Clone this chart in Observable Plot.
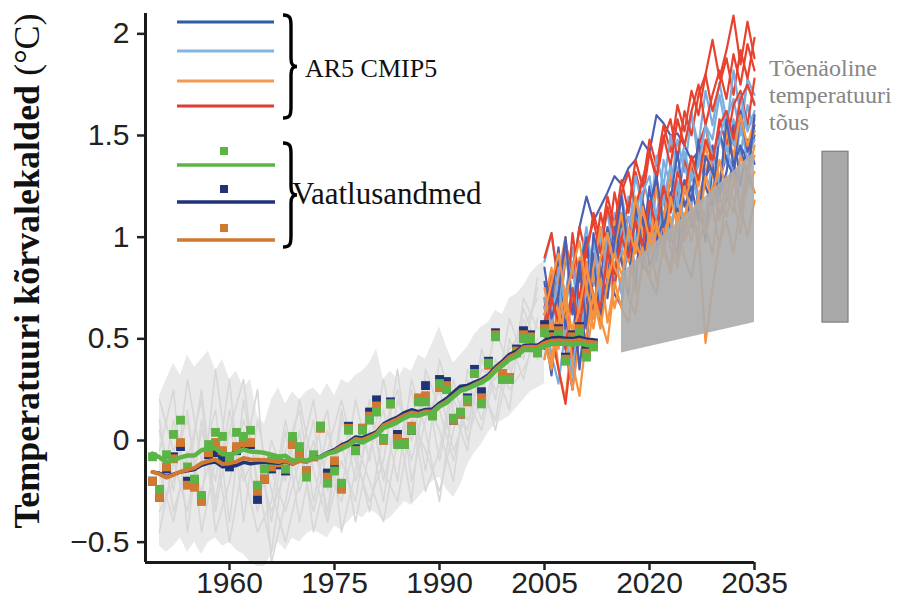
<!DOCTYPE html>
<html>
<head>
<meta charset="utf-8">
<script src="https://cdn.jsdelivr.net/npm/d3@7"></script>
<script src="https://cdn.jsdelivr.net/npm/@observablehq/plot@0.6"></script>
<style>
  html, body { margin: 0; padding: 0; background: #fff; }
  #chart { width: 904px; height: 611px; }
</style>
</head>
<body>
<div id="chart"></div>
<script>
// ---- Axes ----
const xDomain = [1948, 2035];
const yDomain = [-0.6, 2.1];
const xTicks = [1960, 1975, 1990, 2005, 2020, 2035];
const yTicks = [-0.5, 0, 0.5, 1, 1.5, 2];

// ---- Observed annual anomalies (°C), three datasets ----
const obsYears = d3.range(1949, 2013);
const obsGreen = [
  -0.08, -0.24, -0.07, 0.03, 0.10, -0.13, -0.19, -0.27, -0.02, 0.04,
  0.02, -0.08, 0.04, 0.02, 0.05, -0.22, -0.14, -0.10, -0.09, -0.14,
  0.02, -0.03, -0.18, -0.07, 0.07, -0.21, -0.15, -0.21, 0.05, -0.05,
  0.05, 0.10, 0.14, 0.01, 0.18, -0.02, -0.02, 0.05, 0.19, 0.19,
  0.12, 0.28, 0.25, 0.11, 0.14, 0.20, 0.33, 0.18, 0.38, 0.51,
  0.30, 0.30, 0.43, 0.50, 0.50, 0.43, 0.53, 0.49, 0.52, 0.39,
  0.49, 0.53, 0.41, 0.46
];
const obsNavy = [
  -0.20, -0.28, -0.14, -0.08, -0.03, -0.20, -0.20, -0.29, -0.07, -0.06,
  -0.09, -0.13, -0.05, -0.02, -0.02, -0.29, -0.19, -0.14, -0.12, -0.15,
  -0.01, -0.06, -0.15, -0.08, 0.07, -0.16, -0.12, -0.23, 0.07, -0.04,
  0.06, 0.14, 0.20, 0.01, 0.19, 0.03, -0.01, 0.05, 0.20, 0.27,
  0.13, 0.30, 0.29, 0.10, 0.13, 0.21, 0.35, 0.24, 0.39, 0.53,
  0.31, 0.31, 0.45, 0.54, 0.52, 0.45, 0.57, 0.52, 0.55, 0.41,
  0.52, 0.56, 0.45, 0.48
];
const obsBrown = [
  -0.20, -0.28, -0.13, -0.09, -0.01, -0.22, -0.23, -0.30, -0.06, -0.01,
  -0.05, -0.10, -0.03, -0.01, -0.01, -0.25, -0.19, -0.13, -0.11, -0.14,
  -0.02, -0.07, -0.15, -0.08, 0.06, -0.18, -0.10, -0.24, 0.06, -0.05,
  0.06, 0.12, 0.17, 0.00, 0.18, 0.01, -0.01, 0.07, 0.21, 0.22,
  0.13, 0.26, 0.27, 0.10, 0.13, 0.19, 0.33, 0.21, 0.37, 0.52,
  0.33, 0.31, 0.44, 0.52, 0.51, 0.44, 0.55, 0.51, 0.54, 0.40,
  0.51, 0.55, 0.43, 0.47
];

// ---- Historical model ensemble: spread and sample runs ----
const histYears = d3.range(1950, 2006);
const histLow = [
  -0.52, -0.55, -0.52, -0.48, -0.55, -0.50, -0.56, -0.50, -0.48, -0.52,
  -0.50, -0.54, -0.56, -0.60, -0.62, -0.62, -0.56, -0.50, -0.54, -0.48,
  -0.50, -0.46, -0.44, -0.46, -0.48, -0.42, -0.44, -0.40, -0.36, -0.38,
  -0.34, -0.36, -0.40, -0.38, -0.34, -0.30, -0.32, -0.28, -0.24, -0.20,
  -0.18, -0.24, -0.28, -0.22, -0.12, -0.06, -0.02, 0.04, 0.08, 0.10,
  0.12, 0.16, 0.20, 0.24, 0.26, 0.28
];
const histHigh = [
  0.22, 0.30, 0.38, 0.32, 0.42, 0.36, 0.40, 0.44, 0.34, 0.40,
  0.30, 0.34, 0.26, 0.30, 0.12, 0.08, 0.20, 0.26, 0.18, 0.24,
  0.20, 0.24, 0.26, 0.22, 0.28, 0.22, 0.30, 0.28, 0.32, 0.34,
  0.38, 0.45, 0.30, 0.34, 0.30, 0.36, 0.34, 0.42, 0.40, 0.48,
  0.56, 0.46, 0.38, 0.42, 0.46, 0.52, 0.56, 0.58, 0.64, 0.62,
  0.70, 0.72, 0.76, 0.82, 0.86, 0.88
];
const histRunYears = d3.range(1950, 2005, 2);
const histRuns = [
  [-0.30, 0.10, -0.20, 0.25, -0.35, 0.05, -0.15, -0.45, -0.30, 0.10, -0.25, 0.00, -0.35, 0.15, -0.20, 0.05, -0.30, 0.20, 0.00, 0.30, -0.10, 0.25, 0.10, 0.35, 0.30, 0.45, 0.55, 0.70],
  [0.05, -0.25, 0.30, -0.10, 0.15, -0.40, 0.20, -0.20, -0.55, -0.05, 0.15, -0.30, 0.05, -0.25, 0.20, -0.10, 0.30, -0.05, 0.25, -0.15, 0.40, 0.15, -0.05, 0.45, 0.20, 0.60, 0.40, 0.80],
  [-0.45, -0.10, -0.35, 0.05, -0.20, 0.30, -0.40, 0.10, -0.25, -0.50, -0.20, 0.10, -0.40, -0.10, -0.30, 0.15, -0.15, -0.30, 0.10, -0.05, -0.25, 0.05, 0.30, 0.10, 0.40, 0.25, 0.35, 0.50],
  [0.20, -0.05, 0.10, -0.30, 0.35, -0.15, 0.05, -0.35, 0.00, -0.20, 0.20, -0.15, -0.40, 0.10, -0.05, -0.35, 0.05, 0.25, -0.10, 0.20, 0.05, -0.20, 0.35, 0.20, 0.55, 0.35, 0.65, 0.45],
  [-0.15, -0.40, -0.05, -0.25, 0.00, -0.50, -0.10, 0.25, -0.60, -0.30, 0.05, -0.45, -0.15, -0.30, 0.00, -0.20, -0.40, 0.00, 0.15, -0.25, -0.05, 0.30, 0.00, 0.25, 0.10, 0.50, 0.30, 0.60],
  [-0.05, 0.25, -0.45, 0.10, -0.30, 0.15, -0.20, -0.05, -0.40, 0.05, -0.40, -0.05, 0.15, -0.45, -0.15, 0.20, -0.20, 0.10, -0.30, 0.35, 0.15, -0.10, 0.20, 0.05, 0.35, 0.15, 0.70, 0.55],
  [-0.35, -0.20, 0.15, -0.45, -0.10, 0.05, 0.30, -0.25, -0.15, -0.35, -0.10, 0.20, -0.25, 0.00, -0.40, -0.05, 0.15, -0.20, 0.30, 0.05, -0.30, 0.20, 0.05, 0.40, 0.25, 0.30, 0.60, 0.40],
  [0.10, -0.35, -0.10, 0.20, -0.45, -0.20, 0.10, -0.10, -0.35, -0.15, -0.05, -0.35, -0.05, 0.20, -0.10, -0.30, -0.10, 0.35, -0.20, 0.10, 0.25, -0.05, 0.15, 0.30, 0.05, 0.40, 0.45, 0.75]
];

// ---- AR5 CMIP5 projections, 2005–2035, by scenario ----
const projYears = d3.range(2005, 2036);
const projRCP26 = [
  [0.62, 0.75, 0.58, 0.90, 0.82, 1.05, 1.20, 1.08, 1.15, 1.22,  1.30, 1.26, 1.34, 1.38, 1.47, 1.42, 1.60, 1.56, 1.50, 1.51,  1.45, 1.38, 1.42, 1.30, 1.36, 1.28, 1.40, 1.35, 1.45, 1.38,  1.50],
  [0.55, 0.32, 0.70, 0.45, 0.25, 0.62, 0.48, 0.85, 0.60, 0.95,  0.72, 0.66, 1.02, 0.80, 1.10, 0.86, 0.95, 1.25, 1.00, 0.92,  1.28, 1.05, 1.20, 0.98, 1.35, 1.10, 1.18, 1.40, 1.12, 1.30,  1.22],
  [0.78, 0.52, 0.90, 0.68, 0.40, 0.85, 1.00, 0.62, 0.78, 1.05,  0.82, 1.12, 0.90, 0.76, 1.18, 1.02, 1.30, 0.95, 1.22, 1.10,  1.02, 1.38, 1.15, 1.28, 1.45, 1.20, 1.32, 1.55, 1.25, 1.48,  1.36],
  [0.45, 0.70, 0.95, 0.55, 0.75, 0.35, 0.68, 0.92, 0.58, 0.80,  1.05, 0.88, 0.72, 1.15, 0.95, 1.25, 0.98, 1.08, 1.35, 1.12,  1.28, 1.18, 1.48, 1.25, 1.15, 1.52, 1.38, 1.30, 1.62, 1.42,  1.55],
  [0.85, 0.60, 0.72, 1.00, 0.62, 0.88, 0.55, 1.02, 0.85, 0.70,  0.98, 1.20, 0.92, 1.08, 0.85, 1.15, 1.30, 1.05, 1.18, 1.42,  1.15, 1.25, 1.08, 1.40, 1.32, 1.22, 1.58, 1.35, 1.45, 1.28,  1.60]
];
const projRCP45 = [
  [0.58, 0.82, 0.50, 0.72, 0.95, 0.65, 0.88, 0.76, 1.02, 0.85,  1.12, 0.95, 1.20, 1.08, 1.30, 1.15, 1.02, 1.38, 1.25, 1.48,  1.32, 1.60, 1.45, 1.72, 1.55, 1.76, 1.58, 1.68, 1.50, 1.78,  1.70],
  [0.66, 0.42, 0.28, 0.55, 0.70, 0.48, 0.82, 0.62, 0.90, 1.00,  0.78, 1.05, 0.88, 0.98, 1.18, 0.92, 1.12, 1.28, 1.05, 1.20,  1.38, 1.15, 1.42, 1.30, 1.22, 1.50, 1.36, 1.58, 1.40, 1.65,  1.52],
  [0.88, 1.02, 0.75, 0.95, 0.62, 0.85, 1.05, 0.80, 0.98, 1.12,  0.90, 1.22, 1.00, 1.30, 1.15, 1.05, 1.40, 1.25, 1.50, 1.32,  1.45, 1.62, 1.38, 1.55, 1.48, 1.70, 1.52, 1.82, 1.60, 1.75,  1.66],
  [0.40, 0.62, 0.80, 0.52, 0.32, 0.70, 0.55, 0.88, 0.66, 0.75,  0.95, 0.72, 1.02, 0.85, 0.92, 1.12, 0.90, 1.20, 0.98, 1.28,  1.05, 1.32, 1.18, 1.10, 1.40, 1.25, 1.45, 1.30, 1.55, 1.38,  1.48],
  [0.70, 0.55, 0.85, 0.65, 0.88, 0.50, 0.75, 0.98, 0.70, 1.02,  0.85, 0.92, 1.10, 0.98, 1.22, 1.30, 1.08, 1.18, 1.35, 1.15,  1.42, 1.28, 1.35, 1.55, 1.40, 1.48, 1.62, 1.45, 1.70, 1.52,  1.62]
];
const projRCP60 = [
  [0.50, 0.68, 0.35, 0.20, 0.55, 0.72, 0.42, 0.65, 0.85, 0.58,  0.78, 0.92, 0.70, 0.62, 0.88, 1.00, 0.78, 0.95, 0.82, 1.05,  0.90, 0.80, 1.02, 0.48, 0.75, 0.98, 1.08, 0.92, 1.15, 1.00,  1.18],
  [0.68, 0.85, 0.60, 0.92, 0.72, 0.55, 0.88, 0.78, 1.00, 0.82,  1.08, 0.90, 0.98, 1.18, 0.95, 1.12, 1.25, 1.02, 1.30, 1.15,  1.22, 1.38, 1.20, 1.32, 1.45, 1.28, 1.50, 1.38, 1.58, 1.42,  1.52],
  [0.55, 0.38, 0.65, 0.48, 0.25, 0.50, 0.70, 0.55, 0.78, 0.92,  0.65, 0.80, 0.95, 0.72, 0.85, 1.02, 0.88, 1.10, 0.95, 0.85,  1.12, 0.98, 1.18, 1.05, 0.92, 1.20, 1.10, 1.28, 1.15, 1.35,  1.22],
  [0.75, 0.55, 0.82, 1.00, 0.68, 0.90, 0.62, 0.85, 1.05, 0.80,  0.95, 1.12, 0.88, 1.20, 1.02, 0.92, 1.25, 1.08, 1.32, 1.18,  1.05, 1.38, 1.25, 1.45, 1.30, 1.22, 1.52, 1.40, 1.60, 1.45,  1.58],
  [0.40, 0.58, 0.45, 0.68, 0.38, 0.22, 0.52, 0.72, 0.60, 0.48,  0.78, 0.65, 0.58, 0.85, 0.95, 0.80, 0.72, 1.00, 1.10, 0.88,  1.02, 1.15, 0.95, 1.10, 1.25, 1.08, 1.30, 1.18, 1.02, 1.32,  1.40],
  [0.62, 0.78, 0.92, 0.70, 0.85, 0.98, 0.75, 0.60, 0.90, 1.02,  0.85, 0.78, 1.05, 0.92, 1.15, 0.98, 1.08, 0.90, 1.20, 1.05,  1.25, 1.12, 1.02, 1.30, 1.18, 1.38, 1.22, 1.12, 1.40, 1.30,  1.45],
  [0.48, 0.35, 0.58, 0.72, 0.52, 0.65, 0.85, 0.70, 0.55, 0.78,  0.92, 0.82, 0.75, 0.98, 0.88, 0.80, 1.05, 0.95, 0.85, 1.12,  0.98, 1.08, 1.20, 1.02, 1.15, 0.95, 1.22, 1.32, 1.10, 1.25,  1.32]
];
const projRCP85 = [
  [0.65, 0.82, 0.70, 0.98, 0.80, 1.05, 0.90, 1.12, 0.98, 1.20,  1.05, 1.28, 1.12, 1.38, 1.25, 1.48, 1.35, 1.55, 1.42, 1.65,  1.52, 1.72, 1.60, 1.80, 1.97, 1.78, 1.92, 2.09, 1.85, 2.06,  1.88],
  [0.58, 0.75, 0.92, 0.62, 1.02, 0.78, 0.98, 0.85, 1.12, 0.95,  1.22, 1.05, 1.15, 1.32, 1.18, 1.42, 1.28, 1.48, 1.58, 1.38,  1.62, 1.50, 1.70, 1.80, 1.62, 1.75, 1.88, 1.70, 1.92, 1.78,  1.98],
  [0.70, 0.52, 0.35, 0.18, 0.48, 0.65, 0.80, 0.60, 0.88, 0.95,  0.75, 1.00, 1.10, 0.92, 1.15, 1.02, 1.25, 1.08, 1.32, 1.20,  1.38, 1.28, 1.45, 1.55, 1.35, 1.58, 1.45, 1.65, 1.72, 1.55,  1.78],
  [0.90, 1.02, 0.78, 0.95, 0.85, 0.70, 0.95, 1.08, 0.92, 1.15,  1.00, 1.22, 1.32, 1.15, 1.28, 1.42, 1.30, 1.50, 1.35, 1.58,  1.45, 1.62, 1.75, 1.55, 1.70, 1.82, 1.68, 1.90, 1.75, 1.95,  1.82],
  [0.52, 0.70, 0.58, 0.45, 0.75, 0.55, 0.85, 0.72, 0.65, 0.92,  0.82, 1.00, 0.90, 1.08, 0.95, 1.18, 1.05, 1.25, 1.12, 1.32,  1.22, 1.40, 1.28, 1.48, 1.38, 1.55, 1.62, 1.48, 1.68, 1.75,  1.65]
];

// ---- Likely warming range 2016–2035 ----
const likelyYears = [2016, 2035];
const likelyLow = [0.43, 0.58];
const likelyHigh = [0.82, 1.42];

// ---- Labels ----
const yTitleMain = "Temperatuuri kõrvalekalded ";
const yTitleUnit = "(°C)";
const modelLegendLabel = "AR5 CMIP5";
const obsLegendLabel = "Vaatlusandmed";
const likelyLabel = ["Tõenäoline", "temperatuuri", "tõus"];

// ---- Colours ----
const scenarioNames = ["RCP2.6", "RCP4.5", "RCP6.0", "RCP8.5"];
const scenarioLineColors = ["#4b5fb4", "#7aaee0", "#f7923e", "#e8412e"];
const scenarioLegendColors = ["#2d5da6", "#84b5de", "#f29a52", "#e33b33"];
const obsColors = { green: "#5cb447", navy: "#1f3377", brown: "#cf7a30" };

// Projection rows, interleaved so that no single scenario sits on top
const scenarioRuns = [projRCP45, projRCP26, projRCP85, projRCP60];
const scenarioOrder = ["RCP4.5", "RCP2.6", "RCP8.5", "RCP6.0"];
const projRows = [];
const maxRuns = d3.max(scenarioRuns, runs => runs.length);
for (let r = 0; r < maxRuns; r++) {
  scenarioRuns.forEach((runs, s) => {
    if (!runs[r]) return;
    runs[r].forEach((v, i) => projRows.push({ run: scenarioOrder[s] + "-" + r, scen: scenarioOrder[s], year: projYears[i], v }));
  });
}
const histRows = histRuns.flatMap((run, r) => run.map((v, i) => ({ run: r, year: histRunYears[i], v })));
const histBand = histYears.map((year, i) => ({ year, lo: histLow[i], hi: histHigh[i] }));
const likelyBand = likelyYears.map((year, i) => ({ year, lo: likelyLow[i], hi: likelyHigh[i] }));

const obsSet = (vals) => obsYears.map((year, i) => ({ year, v: vals[i] }));
const squares = (vals, color) => Plot.dot(obsSet(vals), { x: "year", y: "v", symbol: "square", r: 5, fill: color });
const smooth = (vals, color, w) => Plot.lineY(obsSet(vals), Plot.windowY({ k: 11, reduce: "mean", x: "year", y: "v", stroke: color, strokeWidth: w }));

const fmtY = d => (d < 0 ? "\u2212" + Math.abs(d) : String(d));

const chart = Plot.plot({
  width: 904,
  height: 611,
  marginLeft: 145,
  marginRight: 150,
  marginTop: 13,
  marginBottom: 49,
  style: { fontFamily: "'Liberation Sans', Arial, sans-serif", fontSize: "30px", color: "#222", background: "#fff" },
  x: { domain: xDomain },
  y: { domain: yDomain },
  color: { domain: scenarioNames, range: scenarioLineColors },
  marks: [
    Plot.areaY(histBand, { x: "year", y1: "lo", y2: "hi", fill: "#e9e9e9" }),
    Plot.line(histRows, { x: "year", y: "v", z: "run", stroke: "#d7d7d7", strokeWidth: 1.6 }),
    Plot.line(projRows, { x: "year", y: "v", z: "run", stroke: "scen", strokeWidth: 2.2 }),
    Plot.areaY(likelyBand, { x: "year", y1: "lo", y2: "hi", fill: "#acacac", fillOpacity: 0.9 }),
    squares(obsNavy, obsColors.navy),
    squares(obsBrown, obsColors.brown),
    squares(obsGreen, obsColors.green),
    smooth(obsNavy, obsColors.navy, 3.5),
    smooth(obsBrown, obsColors.brown, 4),
    smooth(obsGreen, obsColors.green, 4.5),
    Plot.ruleY([yDomain[0]], { stroke: "#1a1a1a", strokeWidth: 3 }),
    Plot.ruleX([xDomain[0]], { stroke: "#1a1a1a", strokeWidth: 3 }),
    Plot.axisX({ ticks: xTicks, tickFormat: d => String(d), tickSize: 8, tickPadding: 1, strokeWidth: 2.5, label: null, fill: "#222" }),
    Plot.axisY({ ticks: yTicks, tickFormat: fmtY, tickSize: 8, tickPadding: 8, strokeWidth: 2.5, label: null, fill: "#222" })
  ]
});
document.getElementById("chart").append(chart);

// ---- Annotations drawn on top of the plot ----
const svg = d3.select(chart);
const y = chart.scale("y");
const serif = "'Liberation Serif', 'Times New Roman', serif";

// Likely-range bar to the right of the axis
svg.append("rect")
  .attr("x", 822).attr("width", 26)
  .attr("y", y.apply(likelyHigh[1]))
  .attr("height", y.apply(likelyLow[1]) - y.apply(likelyHigh[1]))
  .attr("fill", "#a9a9a9").attr("stroke", "#7d7d7d").attr("stroke-width", 1.2);

const side = svg.append("text")
  .attr("text-anchor", "start")
  .attr("font-family", serif).attr("font-size", 24).attr("fill", "#868686");
likelyLabel.forEach((t, i) => side.append("tspan").attr("x", 769).attr("y", 76 + i * 27).text(t));

// Rotated y-axis title
const yt = svg.append("text")
  .attr("transform", "translate(39,271) rotate(-90)")
  .attr("text-anchor", "middle")
  .attr("font-family", serif).attr("font-size", 36).attr("fill", "#111");
yt.append("tspan").attr("font-weight", "bold").text(yTitleMain);
yt.append("tspan").text(yTitleUnit);

// Legend
const leg = svg.append("g").attr("text-anchor", "start");
[22, 51, 81, 106].forEach((ly, i) => {
  leg.append("line").attr("x1", 177).attr("x2", 274).attr("y1", ly).attr("y2", ly)
    .attr("stroke", scenarioLegendColors[i]).attr("stroke-width", 2.8);
});
const obsLegend = [obsColors.green, obsColors.navy, obsColors.brown];
[[151, 165], [189, 202], [228, 240]].forEach(([sy, ly], i) => {
  leg.append("rect").attr("x", 220).attr("y", sy - 4).attr("width", 8).attr("height", 8).attr("fill", obsLegend[i]);
  leg.append("line").attr("x1", 177).attr("x2", 275).attr("y1", ly).attr("y2", ly)
    .attr("stroke", obsLegend[i]).attr("stroke-width", 3.5);
});
const brace = (x, y0, y1) => {
  const m = (y0 + y1) / 2;
  return `M${x},${y0} C${x + 8},${y0} ${x + 8},${y0 + 4} ${x + 8},${y0 + 12} L${x + 8},${m - 8} ` +
    `C${x + 8},${m - 2} ${x + 10},${m} ${x + 14},${m} C${x + 10},${m} ${x + 8},${m + 2} ${x + 8},${m + 8} ` +
    `L${x + 8},${y1 - 12} C${x + 8},${y1 - 4} ${x + 8},${y1} ${x},${y1}`;
};
leg.append("path").attr("d", brace(283, 15, 118)).attr("fill", "none").attr("stroke", "#000").attr("stroke-width", 3.4);
leg.append("path").attr("d", brace(283, 143, 247)).attr("fill", "none").attr("stroke", "#000").attr("stroke-width", 3.4);
leg.append("text").attr("x", 305).attr("y", 77).attr("font-family", serif).attr("font-size", 26).attr("fill", "#111").text(modelLegendLabel);
leg.append("text").attr("x", 292).attr("y", 204).attr("font-family", serif).attr("font-size", 31).attr("fill", "#111").text(obsLegendLabel);
</script>
</body>
</html>
